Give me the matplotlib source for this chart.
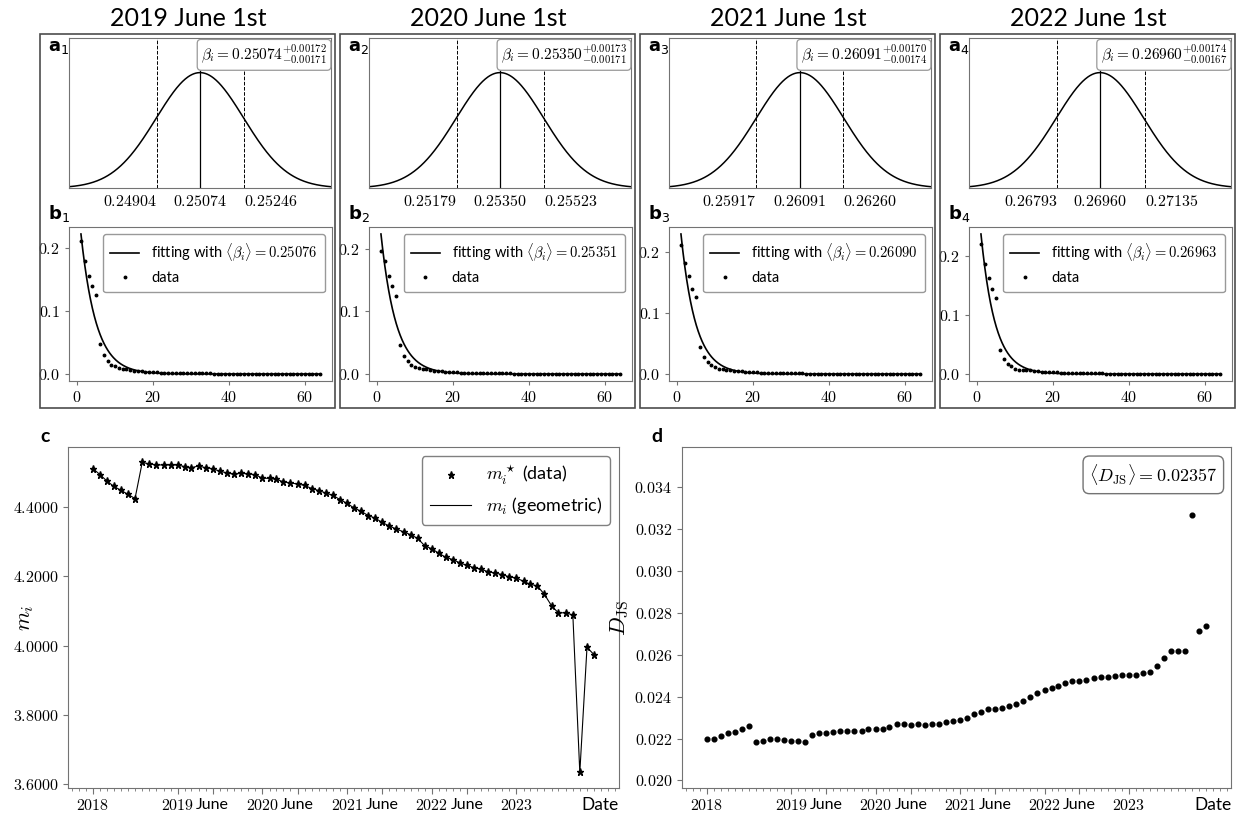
import datetime as dt

import numpy as np
import matplotlib
matplotlib.use("Agg")
import matplotlib.pyplot as plt
import matplotlib.dates as mdates
from matplotlib.ticker import FixedLocator, FuncFormatter
from matplotlib.patches import Rectangle

plt.rcParams['font.family'] = ['Lato', 'DejaVu Sans']
plt.rcParams['mathtext.fontset'] = 'cm'
plt.rcParams['axes.edgecolor'] = '0.45'
plt.rcParams['xtick.color'] = '0.45'
plt.rcParams['ytick.color'] = '0.45'
plt.rcParams['xtick.labelcolor'] = 'black'
plt.rcParams['ytick.labelcolor'] = 'black'

# ---------------------------------------------------------------- data
snapshot_titles = ["2019 June 1st", "2020 June 1st", "2021 June 1st", "2022 June 1st"]
beta_mean = [0.25074, 0.25350, 0.26091, 0.26960]
beta_err_plus = [0.00172, 0.00173, 0.00170, 0.00174]
beta_err_minus = [0.00171, 0.00171, 0.00174, 0.00167]
beta_lo = [0.24904, 0.25179, 0.25917, 0.26793]
beta_hi = [0.25246, 0.25523, 0.26260, 0.27135]
beta_fit = [0.25076, 0.25351, 0.26090, 0.26963]

degree = list(range(1, 65))
head_2019 = [0.210, 0.179, 0.156, 0.139, 0.125, 0.047, 0.030, 0.020, 0.015, 0.012, 0.010, 0.0085]
head_2020 = [0.197, 0.181, 0.157, 0.140, 0.125, 0.047, 0.029, 0.020, 0.015, 0.011, 0.0095, 0.0080]
head_2021 = [0.212, 0.182, 0.160, 0.140, 0.127, 0.045, 0.028, 0.019, 0.014, 0.011, 0.0090, 0.0078]
head_2022 = [0.219, 0.186, 0.162, 0.143, 0.128, 0.041, 0.025, 0.017, 0.013, 0.009, 0.0075, 0.0065]
tail_share = [0.0072, 0.0063, 0.0055, 0.0048, 0.0042, 0.0037, 0.0033, 0.0029, 0.0026, 0.0023,
              0.0021, 0.0019, 0.0017, 0.0015, 0.0014, 0.0013, 0.0012, 0.0011, 0.0010, 0.0009,
              0.0009, 0.0008, 0.0008, 0.0007, 0.0007, 0.0006, 0.0006, 0.0006, 0.0005, 0.0005,
              0.0005, 0.0004, 0.0004, 0.0004, 0.0004, 0.0003, 0.0003, 0.0003, 0.0003, 0.0003,
              0.0002, 0.0002, 0.0002, 0.0002, 0.0002, 0.0002, 0.0002, 0.0001, 0.0001, 0.0001,
              0.0001, 0.0001]
share_by_snapshot = [head_2019 + tail_share, head_2020 + tail_share,
                     head_2021 + tail_share, head_2022 + tail_share]

months = [dt.date(y, m, 1) for y in range(2018, 2024) for m in range(1, 13)]
m_values = [
    4.510, 4.4925, 4.475, 4.459, 4.448, 4.436, 4.424, 4.528, 4.524, 4.521, 4.521, 4.521,
    4.521, 4.516, 4.513, 4.518, 4.513, 4.510, 4.503, 4.498, 4.494, 4.497, 4.495, 4.493,
    4.483, 4.482, 4.480, 4.472, 4.469, 4.466, 4.462, 4.453, 4.447, 4.440, 4.433, 4.421,
    4.410, 4.396, 4.388, 4.375, 4.368, 4.355, 4.345, 4.336, 4.328, 4.320, 4.309, 4.288,
    4.279, 4.266, 4.255, 4.248, 4.239, 4.231, 4.225, 4.220, 4.213, 4.209, 4.205, 4.198,
    4.195, 4.185, 4.177, 4.172, 4.148, 4.115, 4.094, 4.095, 4.088, 3.634, 3.995, 3.974,
]
djs_values = [
    0.02198, 0.02199, 0.02212, 0.02228, 0.02233, 0.02247, 0.02258, 0.02182, 0.02188, 0.02196, 0.02199, 0.02191,
    0.02188, 0.02190, 0.02185, 0.02218, 0.02225, 0.02228, 0.02231, 0.02236, 0.02237, 0.02237, 0.02237, 0.02244,
    0.02244, 0.02247, 0.02255, 0.02268, 0.02268, 0.02265, 0.02271, 0.02265, 0.02268, 0.02270, 0.02277, 0.02283,
    0.02288, 0.02300, 0.02315, 0.02325, 0.02339, 0.02339, 0.02344, 0.02354, 0.02363, 0.02378, 0.02398, 0.02416,
    0.02430, 0.02440, 0.02451, 0.02464, 0.02473, 0.02475, 0.02481, 0.02489, 0.02492, 0.02494, 0.02499, 0.02502,
    0.02502, 0.02502, 0.02511, 0.02519, 0.02545, 0.02586, 0.02616, 0.02616, 0.02616, 0.03265, 0.02715, 0.02738,
]
djs_mean_label = r'$\langle D_{\rm JS}\rangle = 0.02357$'

date_ticks = [dt.date(2018, 1, 1), dt.date(2019, 1, 1), dt.date(2019, 6, 1),
              dt.date(2020, 1, 1), dt.date(2020, 6, 1), dt.date(2021, 1, 1),
              dt.date(2021, 6, 1), dt.date(2022, 1, 1), dt.date(2022, 6, 1),
              dt.date(2023, 1, 1)]
date_tick_labels = ['$2018$', '$2019$', 'June', '$2020$', 'June', '$2021$',
                    'June', '$2022$', 'June', '$2023$']

# ---------------------------------------------------------------- layout
W, H = 1236, 817
fig = plt.figure(figsize=(W / 100, H / 100), dpi=100)


def px_rect(left, top, right, bottom):
    return [left / W, 1 - bottom / H, (right - left) / W, (bottom - top) / H]


def math_fmt(fmt):
    return FuncFormatter(lambda v, pos: '$' + (fmt % v) + '$')


for i in range(4):
    x0 = 40 + 300 * i
    fig.patches.append(Rectangle((x0 / W, 1 - 408 / H), 295 / W, (408 - 34) / H,
                                 transform=fig.transFigure, fill=False,
                                 edgecolor='0.3', linewidth=1.2))
    fig.text((x0 + 148) / W, 1 - 19 / H, snapshot_titles[i], ha='center',
             va='center', fontsize=18)

    # posterior of beta
    ax = fig.add_axes(px_rect(x0 + 29, 38, x0 + 291, 188))
    mu = beta_mean[i]
    sig = (beta_hi[i] - beta_lo[i]) / 2
    xs = np.linspace(mu - 3 * sig, mu + 3 * sig, 400)
    pdf = np.exp(-0.5 * ((xs - mu) / sig) ** 2) / (sig * np.sqrt(2 * np.pi))
    ax.plot(xs, pdf, color='k', lw=1.1)
    ax.axvline(mu, color='k', lw=0.9)
    ax.axvline(beta_lo[i], color='k', lw=0.7, ls='--')
    ax.axvline(beta_hi[i], color='k', lw=0.7, ls='--')
    ax.set_xlim(xs[0], xs[-1])
    ax.set_ylim(0, pdf.max() * 1.3)
    ax.set_yticks([])
    ax.set_xticks([beta_lo[i], mu, beta_hi[i]])
    labels = ax.set_xticklabels(['$%.5f$' % v for v in (beta_lo[i], mu, beta_hi[i])],
                                fontsize=11.5)
    labels[0].set_ha('right')
    labels[2].set_ha('left')
    ax.tick_params(axis='x', length=0, pad=4)
    ax.text(0.985, 0.965,
            r'$\beta_i = %.5f^{+%.5f}_{-%.5f}$' % (mu, beta_err_plus[i], beta_err_minus[i]),
            transform=ax.transAxes, ha='right', va='top', fontsize=11,
            bbox=dict(boxstyle='round,pad=0.25', fc='white', ec='0.6', lw=0.9))
    fig.text((x0 + 8) / W, 1 - 47 / H, r'$\mathbf{a}_{%d}$' % (i + 1),
             math_fontfamily='dejavusans', fontsize=13, va='center', ha='left')

    # degree distribution with geometric fit
    ax = fig.add_axes(px_rect(x0 + 29, 227, x0 + 292, 381))
    kk = np.linspace(1, 64, 500)
    b = beta_fit[i]
    ax.plot(kk, (1 - np.exp(-b)) * np.exp(-b * (kk - 1)), color='k', lw=1.2,
            label=r'fitting with $\langle\beta_i\rangle = %.5f$' % b)
    ax.plot(degree, share_by_snapshot[i], ls='none', marker='o', ms=1.8,
            color='k', label='data')
    ax.set_yticks([0.0, 0.1, 0.2])
    ax.yaxis.set_major_formatter(math_fmt('%.1f'))
    ax.set_xticks([0, 20, 40, 60])
    ax.xaxis.set_major_formatter(math_fmt('%d'))
    ax.tick_params(labelsize=11.5, length=3)
    ax.legend(loc='upper right', fontsize=10.5, edgecolor='0.6', framealpha=1,
              handlelength=2.0, borderpad=0.5, labelspacing=0.5)
    fig.text((x0 + 8) / W, 1 - 213 / H, r'$\mathbf{b}_{%d}$' % (i + 1),
             math_fontfamily='dejavusans', fontsize=13, va='center', ha='left')


def date_axis(ax):
    ax.xaxis.set_major_locator(FixedLocator(mdates.date2num(date_ticks)))
    ax.set_xticklabels(date_tick_labels)
    ax.xaxis.set_minor_locator(mdates.MonthLocator())
    ax.tick_params(axis='x', which='major', labelsize=11.5, length=4)
    ax.tick_params(axis='x', which='minor', length=2.5)
    ax.tick_params(axis='y', labelsize=11.5, length=3.5)


# ---------------------------------------------------------------- panel c
axc = fig.add_axes(px_rect(68, 447, 619, 788))
axc.plot(months, m_values, color='k', lw=0.8, zorder=2)
axc.plot(months, m_values, ls='none', marker='*', ms=5.2, color='k', zorder=3)
star_h = axc.plot([], [], ls='none', marker='*', ms=5.2, color='k')[0]
line_h = axc.plot([], [], color='k', lw=0.8)[0]
axc.legend([star_h, line_h], [r'$m_i^\star$ (data)', r'$m_i$ (geometric)'],
           loc='upper right', fontsize=13, edgecolor='0.5', framealpha=1,
           handlelength=2.3, borderpad=0.45, labelspacing=0.45)
date_axis(axc)
axc.set_yticks([3.6, 3.8, 4.0, 4.2, 4.4])
axc.yaxis.set_major_formatter(math_fmt('%.4f'))
axc.set_ylabel(r'$m_i$', fontsize=16)
axc.yaxis.set_label_coords(-0.058, 0.5)
fig.text(600 / W, 1 - 805 / H, 'Date', ha='center', va='center', fontsize=12.5)
fig.text(45 / W, 1 - 437 / H, 'c', ha='center', va='center', fontsize=14,
         fontweight='bold')

# ---------------------------------------------------------------- panel d
axd = fig.add_axes(px_rect(682, 447, 1231, 788))
axd.plot(months, djs_values, ls='none', marker='o', ms=3.4, color='k')
date_axis(axd)
axd.set_ylim(min(djs_values) * 0.9, max(djs_values) * 1.1)
axd.set_yticks(np.arange(0.020, 0.0341, 0.002))
axd.yaxis.set_major_formatter(math_fmt('%.3f'))
axd.set_ylabel(r'$D_{\rm JS}$', fontsize=16)
axd.yaxis.set_label_coords(-0.093, 0.5)
axd.text(0.975, 0.955, djs_mean_label, transform=axd.transAxes, ha='right',
         va='top', fontsize=13,
         bbox=dict(boxstyle='round,pad=0.35', fc='white', ec='0.45', lw=1.0))
fig.text(1213 / W, 1 - 805 / H, 'Date', ha='center', va='center', fontsize=12.5)
fig.text(657 / W, 1 - 437 / H, 'd', ha='center', va='center', fontsize=14,
         fontweight='bold')

fig.savefig('out.png', dpi=100)
